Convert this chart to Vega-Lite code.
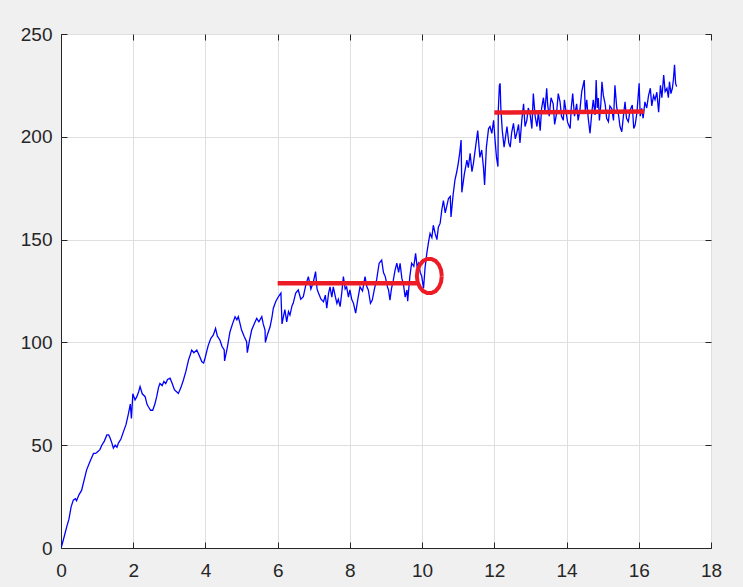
{
  "$schema": "https://vega.github.io/schema/vega-lite/v6.json",
  "width": 650,
  "height": 514,
  "autosize": {"type": "none"},
  "padding": {"left": 61, "top": 34, "right": 32, "bottom": 39},
  "background": "#f0f0f0",
  "config": {
    "view": {"fill": "white", "stroke": "#262626", "strokeWidth": 1},
    "axis": {
      "labelFont": "Liberation Sans",
      "labelFontSize": 19,
      "labelColor": "#262626",
      "labelFlush": false,
      "labelOverlap": false,
      "domainColor": "#262626",
      "tickColor": "#262626",
      "tickWidth": 1,
      "gridColor": "#dfdfdf",
      "gridWidth": 1,
      "title": null
    }
  },
  "datasets": {
    "blue": [
      {"x":0,"y":0.5},{"x":0.02,"y":1},{"x":0.08,"y":5},{"x":0.16,"y":10.4},{"x":0.22,"y":14},{"x":0.28,"y":20},{"x":0.34,"y":23.3},{"x":0.4,"y":24},{"x":0.43,"y":23},{"x":0.5,"y":26},{"x":0.57,"y":28},{"x":0.64,"y":33},{"x":0.71,"y":38},{"x":0.8,"y":42},{"x":0.9,"y":46},{"x":0.96,"y":46},{"x":1.03,"y":47},{"x":1.08,"y":48},{"x":1.13,"y":50},{"x":1.2,"y":52},{"x":1.27,"y":55},{"x":1.32,"y":55},{"x":1.36,"y":53.5},{"x":1.41,"y":51},{"x":1.45,"y":48.6},{"x":1.5,"y":50},{"x":1.55,"y":49},{"x":1.59,"y":51},{"x":1.66,"y":53},{"x":1.73,"y":56.6},{"x":1.8,"y":60},{"x":1.86,"y":64.7},{"x":1.92,"y":70},{"x":1.95,"y":63},{"x":1.99,"y":75},{"x":2.05,"y":72},{"x":2.1,"y":73.6},{"x":2.15,"y":76},{"x":2.19,"y":78.5},{"x":2.25,"y":75},{"x":2.33,"y":73.6},{"x":2.38,"y":70},{"x":2.42,"y":68.7},{"x":2.48,"y":67},{"x":2.54,"y":67},{"x":2.6,"y":70},{"x":2.65,"y":73.6},{"x":2.7,"y":78},{"x":2.74,"y":80},{"x":2.8,"y":79},{"x":2.85,"y":81},{"x":2.9,"y":80},{"x":2.95,"y":82},{"x":3.02,"y":82.6},{"x":3.08,"y":80},{"x":3.14,"y":77},{"x":3.2,"y":76},{"x":3.25,"y":75.2},{"x":3.32,"y":78},{"x":3.39,"y":81.7},{"x":3.46,"y":86},{"x":3.53,"y":91.4},{"x":3.58,"y":94},{"x":3.62,"y":96.3},{"x":3.68,"y":95},{"x":3.76,"y":96.3},{"x":3.82,"y":94},{"x":3.9,"y":90.6},{"x":3.95,"y":90},{"x":3.99,"y":92.4},{"x":4.04,"y":96},{"x":4.08,"y":98.7},{"x":4.15,"y":102},{"x":4.22,"y":103.6},{"x":4.28,"y":106.8},{"x":4.33,"y":103},{"x":4.4,"y":101.2},{"x":4.46,"y":98},{"x":4.52,"y":96.3},{"x":4.53,"y":91},{"x":4.6,"y":97},{"x":4.68,"y":105.2},{"x":4.75,"y":109},{"x":4.82,"y":112.5},{"x":4.87,"y":111},{"x":4.91,"y":112.5},{"x":4.96,"y":109},{"x":5.0,"y":106},{"x":5.07,"y":103},{"x":5.14,"y":100.3},{"x":5.16,"y":95},{"x":5.22,"y":101},{"x":5.28,"y":106},{"x":5.35,"y":109},{"x":5.42,"y":111.7},{"x":5.48,"y":110},{"x":5.56,"y":112.5},{"x":5.6,"y":109},{"x":5.65,"y":106},{"x":5.66,"y":100},{"x":5.72,"y":104},{"x":5.79,"y":107.6},{"x":5.84,"y":112},{"x":5.88,"y":116.6},{"x":5.95,"y":120},{"x":6.02,"y":122.2},{"x":6.09,"y":124},{"x":6.12,"y":109},{"x":6.16,"y":112.5},{"x":6.2,"y":116},{"x":6.25,"y":110},{"x":6.3,"y":115},{"x":6.34,"y":113.3},{"x":6.4,"y":118},{"x":6.43,"y":119},{"x":6.5,"y":124},{"x":6.57,"y":125.5},{"x":6.64,"y":121},{"x":6.71,"y":122.2},{"x":6.78,"y":128},{"x":6.85,"y":132},{"x":6.92,"y":126},{"x":6.99,"y":129.5},{"x":7.05,"y":134.4},{"x":7.09,"y":126},{"x":7.13,"y":124},{"x":7.2,"y":121},{"x":7.27,"y":119.8},{"x":7.32,"y":123},{"x":7.36,"y":116.6},{"x":7.41,"y":124},{"x":7.45,"y":127},{"x":7.5,"y":122},{"x":7.54,"y":127},{"x":7.6,"y":122},{"x":7.64,"y":119},{"x":7.68,"y":121},{"x":7.73,"y":117.4},{"x":7.78,"y":125},{"x":7.82,"y":132},{"x":7.87,"y":126},{"x":7.91,"y":127},{"x":7.96,"y":122},{"x":8.0,"y":125.5},{"x":8.05,"y":121},{"x":8.1,"y":119},{"x":8.16,"y":114.2},{"x":8.22,"y":121},{"x":8.28,"y":127},{"x":8.35,"y":125},{"x":8.42,"y":132},{"x":8.47,"y":127},{"x":8.51,"y":125.5},{"x":8.57,"y":119},{"x":8.62,"y":120.6},{"x":8.68,"y":126},{"x":8.74,"y":130.4},{"x":8.81,"y":138.5},{"x":8.88,"y":140},{"x":8.93,"y":134},{"x":8.98,"y":132},{"x":9.04,"y":127},{"x":9.07,"y":125.5},{"x":9.11,"y":120.6},{"x":9.15,"y":126},{"x":9.2,"y":130},{"x":9.25,"y":135},{"x":9.3,"y":138.5},{"x":9.35,"y":134},{"x":9.39,"y":138.5},{"x":9.44,"y":131},{"x":9.48,"y":128.7},{"x":9.53,"y":122},{"x":9.58,"y":125.5},{"x":9.6,"y":120},{"x":9.66,"y":132},{"x":9.71,"y":138.5},{"x":9.77,"y":137},{"x":9.82,"y":143.3},{"x":9.86,"y":137},{"x":9.9,"y":138.5},{"x":9.95,"y":134},{"x":9.99,"y":132},{"x":10.04,"y":126.3},{"x":10.08,"y":136},{"x":10.13,"y":143.3},{"x":10.18,"y":149},{"x":10.22,"y":153},{"x":10.27,"y":151},{"x":10.31,"y":157},{"x":10.36,"y":153},{"x":10.41,"y":150},{"x":10.45,"y":156},{"x":10.5,"y":158},{"x":10.55,"y":165},{"x":10.59,"y":169},{"x":10.64,"y":163},{"x":10.68,"y":166},{"x":10.73,"y":170},{"x":10.78,"y":171},{"x":10.8,"y":161},{"x":10.86,"y":172},{"x":10.91,"y":179},{"x":10.96,"y":183},{"x":11.0,"y":187},{"x":11.04,"y":192},{"x":11.08,"y":198.4},{"x":11.1,"y":173},{"x":11.17,"y":182},{"x":11.24,"y":188.7},{"x":11.28,"y":185},{"x":11.33,"y":192},{"x":11.38,"y":183},{"x":11.42,"y":187},{"x":11.48,"y":195},{"x":11.54,"y":203},{"x":11.6,"y":190},{"x":11.65,"y":193.6},{"x":11.7,"y":185},{"x":11.73,"y":176.6},{"x":11.78,"y":195},{"x":11.84,"y":204},{"x":11.88,"y":205},{"x":11.93,"y":201.7},{"x":11.98,"y":208},{"x":12.02,"y":198.4},{"x":12.06,"y":190},{"x":12.1,"y":185.5},{"x":12.11,"y":213},{"x":12.14,"y":225},{"x":12.16,"y":226},{"x":12.18,"y":214},{"x":12.22,"y":203},{"x":12.27,"y":195},{"x":12.31,"y":200},{"x":12.35,"y":205},{"x":12.4,"y":197},{"x":12.44,"y":195},{"x":12.48,"y":202},{"x":12.53,"y":206.5},{"x":12.58,"y":199},{"x":12.62,"y":201.7},{"x":12.67,"y":206},{"x":12.71,"y":197},{"x":12.76,"y":208},{"x":12.81,"y":216},{"x":12.85,"y":205},{"x":12.9,"y":208},{"x":12.94,"y":214},{"x":12.99,"y":211},{"x":13.04,"y":204},{"x":13.08,"y":221},{"x":13.13,"y":210},{"x":13.18,"y":205},{"x":13.22,"y":212},{"x":13.27,"y":203},{"x":13.31,"y":214},{"x":13.36,"y":219},{"x":13.4,"y":212},{"x":13.45,"y":223.6},{"x":13.48,"y":215},{"x":13.52,"y":210},{"x":13.57,"y":219},{"x":13.63,"y":216},{"x":13.67,"y":206},{"x":13.72,"y":211},{"x":13.77,"y":221},{"x":13.82,"y":217},{"x":13.86,"y":210},{"x":13.91,"y":208},{"x":13.94,"y":218},{"x":13.98,"y":213},{"x":14.03,"y":207},{"x":14.1,"y":204},{"x":14.13,"y":214},{"x":14.17,"y":221},{"x":14.22,"y":210},{"x":14.28,"y":216},{"x":14.32,"y":208},{"x":14.37,"y":213},{"x":14.42,"y":222},{"x":14.49,"y":227.6},{"x":14.52,"y":212},{"x":14.56,"y":218},{"x":14.6,"y":209},{"x":14.65,"y":201.7},{"x":14.7,"y":212},{"x":14.74,"y":218},{"x":14.79,"y":210.6},{"x":14.82,"y":227.6},{"x":14.85,"y":214},{"x":14.88,"y":218.8},{"x":14.91,"y":208},{"x":14.95,"y":216},{"x":14.98,"y":226.8},{"x":15.02,"y":220},{"x":15.07,"y":215.8},{"x":15.11,"y":209},{"x":15.16,"y":207.3},{"x":15.2,"y":215},{"x":15.25,"y":213.8},{"x":15.3,"y":208},{"x":15.34,"y":225},{"x":15.39,"y":214},{"x":15.44,"y":210.6},{"x":15.48,"y":205},{"x":15.53,"y":202.5},{"x":15.58,"y":211},{"x":15.62,"y":217},{"x":15.66,"y":209},{"x":15.71,"y":207.3},{"x":15.76,"y":213},{"x":15.82,"y":215.5},{"x":15.86,"y":204},{"x":15.9,"y":205.7},{"x":15.95,"y":212},{"x":16.01,"y":226},{"x":16.04,"y":210},{"x":16.08,"y":213.8},{"x":16.12,"y":209},{"x":16.17,"y":217},{"x":16.22,"y":214},{"x":16.27,"y":220},{"x":16.32,"y":223.6},{"x":16.36,"y":215},{"x":16.41,"y":220},{"x":16.45,"y":218},{"x":16.5,"y":221.7},{"x":16.55,"y":212},{"x":16.6,"y":225},{"x":16.64,"y":219},{"x":16.69,"y":230},{"x":16.73,"y":222},{"x":16.78,"y":223.6},{"x":16.82,"y":219},{"x":16.85,"y":226.8},{"x":16.89,"y":221},{"x":16.93,"y":223.6},{"x":16.96,"y":228},{"x":16.99,"y":235},{"x":17.02,"y":226},{"x":17.05,"y":224.4}
    ],
    "redlines": [
      {"g":"a","x":6.0,"y":128.8},{"g":"a","x":9.9,"y":128.8},
      {"g":"b","x":12.0,"y":211.8},{"g":"b","x":16.15,"y":212.3}
    ],
    "ellipse": [
      {"i":0,"x":10.545,"y":132.3},{"i":1,"x":10.524,"y":135.19},{"i":2,"x":10.464,"y":137.73},{"i":3,"x":10.373,"y":139.62},{"i":4,"x":10.26,"y":140.62},{"i":5,"x":10.14,"y":140.62},{"i":6,"x":10.028,"y":139.62},{"i":7,"x":9.936,"y":137.73},{"i":8,"x":9.876,"y":135.19},{"i":9,"x":9.855,"y":132.3},{"i":10,"x":9.876,"y":129.41},{"i":11,"x":9.936,"y":126.87},{"i":12,"x":10.028,"y":124.98},{"i":13,"x":10.14,"y":123.98},{"i":14,"x":10.26,"y":123.98},{"i":15,"x":10.373,"y":124.98},{"i":16,"x":10.464,"y":126.87},{"i":17,"x":10.524,"y":129.41},{"i":18,"x":10.545,"y":132.3}
    ]
  },
  "layer": [
    {
      "data": {"name": "blue"},
      "mark": {"type": "line", "color": "#0000ff", "strokeWidth": 1.3, "clip": true},
      "encoding": {
        "x": {"field": "x", "type": "quantitative", "scale": {"domain": [0, 18], "nice": false, "zero": false},
              "axis": {"orient": "bottom", "values": [0,2,4,6,8,10,12,14,16,18], "tickSize": -6, "labelPadding": 19, "grid": true, "domain": true}},
        "y": {"field": "y", "type": "quantitative", "scale": {"domain": [0, 250], "nice": false},
              "axis": {"orient": "left", "values": [0,50,100,150,200,250], "tickSize": -6, "labelPadding": 15, "grid": true, "domain": true}}
      }
    },
    {
      "data": {"name": "redlines"},
      "mark": {"type": "line", "color": "#ed1c24", "strokeWidth": 4.5, "strokeCap": "butt"},
      "encoding": {
        "x": {"field": "x", "type": "quantitative",
              "axis": {"orient": "top", "values": [0,2,4,6,8,10,12,14,16,18], "labels": false, "tickSize": -6, "grid": false, "domain": false}},
        "y": {"field": "y", "type": "quantitative",
              "axis": {"orient": "right", "values": [0,50,100,150,200,250], "labels": false, "tickSize": -6, "grid": false, "domain": false}},
        "detail": {"field": "g", "type": "nominal"}
      }
    },
    {
      "data": {"name": "ellipse"},
      "mark": {"type": "line", "color": "#ed1c24", "strokeWidth": 4},
      "encoding": {
        "x": {"field": "x", "type": "quantitative", "axis": null},
        "y": {"field": "y", "type": "quantitative", "axis": null},
        "order": {"field": "i", "type": "quantitative"}
      }
    }
  ]
}
